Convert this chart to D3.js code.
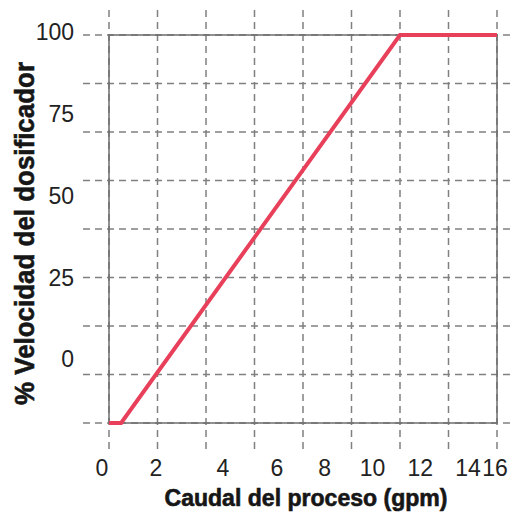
<!DOCTYPE html>
<html>
<head>
<meta charset="utf-8">
<script src="https://cdn.jsdelivr.net/npm/d3@7"></script>
<style>
  html, body { margin: 0; padding: 0; background: #fff; }
  svg { display: block; }
</style>
</head>
<body>
<svg id="chart" width="514" height="514"></svg>
<script>
// ---- data ----
const flowValues  = [0, 0.5, 12, 16];          // Caudal del proceso (gpm)
const speedValues = [0, 0, 100, 100];          // % Velocidad del dosificador
const xTickLabels = [0, 2, 4, 6, 8, 10, 12, 14, 16];
const yTickLabels = [0, 25, 50, 75, 100];
const xGridValues = [0, 2, 4, 6, 8, 10, 12, 14, 16];
const yGridValues = [0, 12.5, 25, 37.5, 50, 62.5, 75, 87.5, 100];
const xTitle = "Caudal del proceso (gpm)";
const yTitle = "% Velocidad del dosificador";

(function () {
// ---- layout ----
const svg = d3.select("#chart");
const pLeft = 109, pRight = 497, pTop = 35, pBottom = 423;

const x = d3.scaleLinear().domain([0, 16]).range([pLeft, pRight]);
const y = d3.scaleLinear().domain([0, 100]).range([pBottom, pTop]);

// label scales (labels in the reference are offset from the grid)
const xLab = d3.scaleLinear().domain([0, 2, 4, 6, 14, 16]).range([102, 156, 223, 277, 468, 495]);
const yLab = d3.scaleLinear().domain([0, 100]).range([359, 32]);

const gridColor = "#808080";
const dash = "7,5";

// vertical dashed grid
svg.append("g").selectAll("line").data(xGridValues).join("line")
  .attr("x1", d => x(d)).attr("x2", d => x(d))
  .attr("y1", 10).attr("y2", 449)
  .attr("stroke", gridColor).attr("stroke-width", 1.5)
  .attr("stroke-dasharray", dash);

// horizontal dashed grid
svg.append("g").selectAll("line").data(yGridValues).join("line")
  .attr("x1", 83).attr("x2", 513)
  .attr("y1", d => y(d)).attr("y2", d => y(d))
  .attr("stroke", gridColor).attr("stroke-width", 1.5)
  .attr("stroke-dasharray", dash);

// plot frame
svg.append("rect")
  .attr("x", x(0)).attr("y", y(100))
  .attr("width", x(16) - x(0)).attr("height", y(0) - y(100))
  .attr("fill", "none").attr("stroke", "#6e6e6e").attr("stroke-width", 1.5);

// data line
const pts = flowValues.map((f, i) => [f, speedValues[i]]);
svg.append("path")
  .datum(pts)
  .attr("d", d3.line().x(d => x(d[0])).y(d => y(d[1])))
  .attr("fill", "none")
  .attr("stroke", "#e8405a")
  .attr("stroke-width", 4)
  .attr("stroke-linejoin", "miter");

// tick labels
const tickFont = "'Liberation Sans', Arial, sans-serif";
svg.append("g").selectAll("text").data(xTickLabels).join("text")
  .attr("x", d => xLab(d)).attr("y", 476)
  .attr("text-anchor", "middle")
  .attr("font-family", tickFont).attr("font-size", 23)
  .attr("fill", "#222")
  .text(d => d);

svg.append("g").selectAll("text").data(yTickLabels).join("text")
  .attr("x", 74).attr("y", d => yLab(d))
  .attr("dy", "0.36em")
  .attr("text-anchor", "end")
  .attr("font-family", tickFont).attr("font-size", 23)
  .attr("fill", "#222")
  .text(d => d);

// axis titles
svg.append("text")
  .attr("x", 306).attr("y", 506)
  .attr("text-anchor", "middle")
  .attr("font-family", "'Liberation Sans Narrow', 'Liberation Sans', Arial, sans-serif")
  .attr("font-weight", "bold").attr("font-size", 23)
  .attr("textLength", 283).attr("lengthAdjust", "spacingAndGlyphs")
  .attr("fill", "#161616").attr("stroke", "#161616").attr("stroke-width", 0.6)
  .text(xTitle);

svg.append("text")
  .attr("transform", "translate(34,233.5) rotate(-90)")
  .attr("text-anchor", "middle")
  .attr("font-family", "'Liberation Sans Narrow', 'Liberation Sans', Arial, sans-serif")
  .attr("font-weight", "bold").attr("font-size", 28)
  .attr("textLength", 343).attr("lengthAdjust", "spacingAndGlyphs")
  .attr("fill", "#161616").attr("stroke", "#161616").attr("stroke-width", 0.6)
  .text(yTitle);
})();
</script>
</body>
</html>
